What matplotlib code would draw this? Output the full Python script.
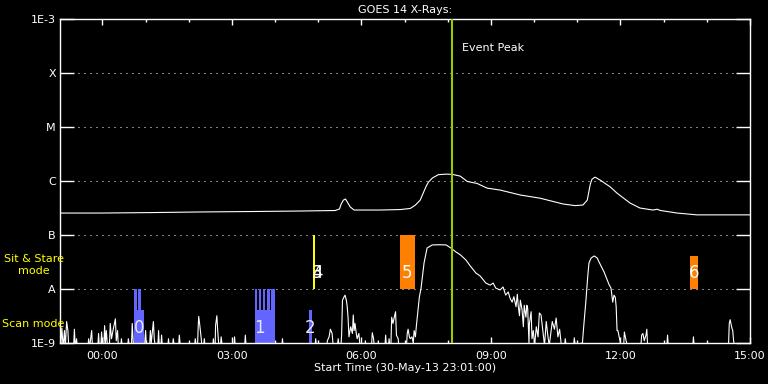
import numpy as np
import matplotlib
matplotlib.use('Agg')
import matplotlib.pyplot as plt

plt.rcParams['font.family'] = ['DejaVu Sans']

# time in hours from 30-May-13 00:00 (start 23:01 the day before)
t_start = -59 / 60.0
t_end = 15.0

# long channel (1-8 A), flux in units of 1e-9 W/m^2
long_t = [-0.97, -0.05, 1.11, 2.27, 3.43, 4.58, 5.39, 5.49, 5.53, 5.58, 5.63, 5.67, 5.74, 5.83,
          5.97, 6.44, 6.90, 7.13, 7.25, 7.36, 7.43, 7.50, 7.55, 7.64, 7.78, 7.96, 8.10, 8.29,
          8.45, 8.68, 8.91, 9.21, 9.68, 10.14, 10.67, 10.95, 11.13, 11.23, 11.30, 11.34, 11.41,
          11.53, 11.76, 11.92, 12.22, 12.45, 12.75, 12.85, 12.92, 13.31, 13.77, 15.0]
long_f = [255, 255, 260, 267, 272, 278, 284, 303, 375, 442, 464, 410, 330, 290,
          290, 290, 296, 310, 359, 442, 596, 804, 950, 1130, 1310, 1340, 1330, 1230,
          980, 900, 738, 680, 550, 480, 375, 350, 359, 442, 872, 1080, 1180,
          1040, 780, 596, 391, 316, 290, 300, 285, 255, 236, 236]

# short channel (0.5-4 A), flux in units of 1e-9 W/m^2 (0.8 = below the plot floor)
short_t = [-0.97, -0.94, -0.91, -0.88, -0.86, -0.83, -0.80, -0.78, -0.67, -0.65, -0.63, -0.60,
           -0.58, -0.34, -0.32, -0.30, -0.25, -0.23, -0.11, -0.09, -0.07, -0.04, -0.02, 0.00,
           0.03, 0.05, 0.07, 0.09, 0.12, 0.16, 0.18, 0.21, 0.25, 0.30, 0.32, 0.35, 0.37, 0.42,
           0.44, 0.46, 0.58, 0.60, 0.63, 0.67, 0.69, 0.72, 0.97, 1.00, 1.02, 1.09, 1.11, 1.13,
           1.18, 1.20, 1.23, 1.28, 1.30, 1.32, 1.35, 1.37, 1.39, 1.51, 1.53, 1.55, 1.62, 1.64,
           1.67, 1.76, 1.78, 1.81, 2.13, 2.15, 2.18, 2.20, 2.22, 2.23, 2.25, 2.28, 2.31, 2.34,
           2.36, 2.38, 2.55, 2.57, 2.59, 2.61, 2.62, 2.65, 2.67, 2.70, 2.73, 2.75, 2.78, 3.04,
           3.06, 3.08, 3.29, 3.31, 3.33, 4.15, 4.17, 4.19, 4.92, 4.94, 4.96, 5.19, 5.21, 5.25,
           5.28, 5.32, 5.35, 5.44, 5.46, 5.49, 5.52, 5.54, 5.56, 5.59, 5.62, 5.65, 5.67, 5.69,
           5.71, 5.75, 5.79, 5.81, 5.83, 5.85, 5.88, 5.90, 5.94, 5.97, 6.07, 6.09, 6.11, 6.23,
           6.25, 6.28, 6.30, 6.37, 6.39, 6.41, 6.54, 6.56, 6.58, 6.62, 6.64, 6.66, 6.68, 6.70,
           6.73, 6.76, 6.79, 6.81, 6.85, 6.87, 7.04, 7.06, 7.08, 7.11, 7.13, 7.17, 7.20, 7.22,
           7.25, 7.27, 7.34, 7.38, 7.45, 7.52, 7.64, 7.82, 7.96, 8.07, 8.19, 8.29, 8.42, 8.52,
           8.65, 8.75, 8.88, 8.98, 9.05, 9.11, 9.21, 9.28, 9.34, 9.40, 9.44, 9.49, 9.53, 9.58,
           9.61, 9.63, 9.66, 9.68, 9.72, 9.75, 9.77, 9.81, 9.83, 9.85, 9.88, 9.89, 9.93, 9.95,
           9.98, 10.01, 10.05, 10.09, 10.12, 10.16, 10.20, 10.24, 10.28, 10.32, 10.35, 10.42,
           10.47, 10.51, 10.55, 10.59, 10.63, 10.70, 10.72, 10.75, 10.91, 10.93, 10.96, 11.07,
           11.09, 11.11, 11.14, 11.20, 11.24, 11.27, 11.32, 11.39, 11.46, 11.50, 11.62, 11.74,
           11.78, 11.82, 11.85, 11.88, 11.90, 11.92, 11.94, 11.97, 12.01, 12.03, 12.07, 12.09,
           12.13, 12.18, 12.47, 12.49, 12.52, 12.55, 12.59, 12.61, 12.63, 13.07, 13.09, 13.11,
           13.67, 13.69, 13.71, 14.50, 14.52, 14.54, 14.58, 14.60, 14.62, 14.65, 15.0]
short_f = [0.8, 1.9, 0.8, 1.7, 0.8, 2.5, 1.7, 0.8, 0.8, 1.8, 0.8, 1.2,
           0.8, 0.8, 1.2, 0.8, 1.7, 0.8, 0.8, 1.5, 0.8, 0.8, 1.6, 0.8,
           0.8, 2.1, 1.0, 1.7, 0.8, 0.8, 2.3, 1.2, 1.8, 2.8, 1.1, 1.7, 0.8, 0.8,
           1.2, 0.8, 0.8, 1.2, 0.8, 0.8, 2.3, 0.8, 0.8, 1.7, 0.8, 0.8, 1.7, 1.0,
           2.5, 1.2, 0.8, 0.8, 1.7, 0.8, 0.8, 1.4, 0.8, 0.8, 1.2, 0.8, 0.8, 1.2,
           0.8, 0.8, 1.4, 0.8, 0.8, 1.2, 0.8, 0.8, 2.2, 3.1, 2.3, 1.4, 0.8, 0.8,
           1.2, 0.8, 0.8, 1.2, 0.8, 0.8, 2.1, 3.2, 1.7, 0.8, 0.8, 1.3, 0.8, 0.8,
           1.3, 0.8, 0.8, 1.4, 0.8, 0.8, 1.2, 0.8, 0.8, 1.2, 0.8, 0.8, 1.1, 1.3,
           1.8, 1.5, 0.8, 0.8, 1.2, 0.8, 0.8, 1.4, 6.2, 7.0, 7.7, 6.2, 4.7, 2.9,
           1.3, 2.0, 1.5, 3.3, 1.7, 2.3, 1.5, 1.2, 1.5, 0.8, 0.8, 1.1, 0.8, 0.8,
           1.55, 1.2, 0.8, 0.8, 1.1, 0.8, 0.8, 1.4, 0.8, 0.8, 1.2, 0.8, 0.8, 3.0,
           2.3, 3.0, 3.8, 1.4, 1.2, 0.8, 0.8, 1.5, 1.8, 1.3, 1.2, 1.3, 1.0, 1.7,
           1.3, 2.0, 7.0, 10.4, 30.4, 57.5, 65.5, 66, 65.5, 57.5, 48.4, 43, 34.4, 26.7,
           19.8, 17.4, 12.9, 11.8, 12.9, 10.4, 9.6, 10.9, 7.7, 8.8, 6.8, 5.7, 7.2, 4.7,
           8.0, 5.0, 3.2, 6.2, 4.1, 2.0, 5.0, 3.0, 5.0, 4.4, 1.0, 2.3, 3.8, 1.2,
           1.7, 0.9, 2.0, 1.3, 3.6, 3.3, 1.7, 0.9, 2.5, 1.3, 0.9, 2.5,
           1.8, 2.9, 1.3, 1.8, 0.9, 0.8, 1.2, 0.8, 0.8, 1.25, 0.8, 0.8,
           1.0, 0.8, 1.7, 6.2, 16.7, 30.4, 37.5, 40.9, 37.5, 32, 20.6, 11.8,
           10.4, 5.7, 7.7, 7.0, 4.7, 1.7, 1.7, 1.3, 0.9, 0.8, 0.8, 1.6,
           1.1, 0.8, 0.8, 1.4, 1.5, 1.1, 1.4, 1.8, 0.8, 0.8, 1.4, 0.8,
           0.8, 1.3, 0.8, 0.8, 2.3, 2.7, 1.9, 1.7, 1.1, 0.8, 0.8]

# scan mode observations: start, end (hours), top flux
scan_start = [0.74, 0.74, 0.83, 3.54, 3.54, 3.63, 3.73, 3.82, 3.91, 4.79]
scan_end = [0.97, 0.81, 0.90, 4.00, 3.59, 3.68, 3.77, 3.87, 4.00, 4.86]
scan_top = [4e-9, 1e-8, 1e-8, 4e-9, 1e-8, 1e-8, 1e-8, 1e-8, 1e-8, 4e-9]

# sit & stare observations
ss_start = [4.88, 6.90, 13.61]
ss_end = [4.92, 7.25, 13.80]
ss_top = [1e-7, 1e-7, 4e-8]
ss_color = ['#ffff00', '#ff8000', '#ff8000']

# event labels
scan_lab = ['0', '1', '2']
scan_lab_t = [0.86, 3.63, 4.82]
ss_lab = ['3', '4', '5', '6']
ss_lab_t = [4.98, 4.98, 7.06, 13.70]

peak_t = 8.09

ytick_vals = [1e-9, 1e-8, 1e-7, 1e-6, 1e-5, 1e-4, 1e-3]
ytick_labs = ['1E-9', 'A', 'B', 'C', 'M', 'X', '1E-3']
xtick_vals = [0, 3, 6, 9, 12, 15]
xtick_labs = ['00:00', '03:00', '06:00', '09:00', '12:00', '15:00']

fig = plt.figure(figsize=(7.68, 3.84), dpi=100, facecolor='black')
ax = fig.add_axes([60 / 768, 1 - 343 / 384, 690 / 768, 324 / 384], facecolor='black')
ax.set_yscale('log')
ax.set_xlim(t_start, t_end)
ax.set_ylim(1e-9, 1e-3)

for v in ytick_vals[1:-1]:
    ax.axhline(v, color='white', lw=0.72, ls=(0, (1, 5)), zorder=1)

for s, e, top in zip(scan_start, scan_end, scan_top):
    ax.bar(s, top - 1e-9, width=e - s, bottom=1e-9, align='edge', color='#6464ff', lw=0, zorder=2)
for s, e, top, c in zip(ss_start, ss_end, ss_top, ss_color):
    ax.bar(s, top - 1e-8, width=e - s, bottom=1e-8, align='edge', color=c, lw=0, zorder=2)

ax.plot(long_t, np.array(long_f) * 1e-9, color='white', lw=0.8, zorder=3)
ax.plot(short_t, np.array(short_f) * 1e-9, color='white', lw=0.8, zorder=3)

ax.axvline(peak_t, color='#99cc00', lw=1.5, zorder=4)
ax.text(peak_t + 0.25, 2.9e-4, 'Event Peak', color='white', fontsize=8, va='center', ha='left')

for lab, t in zip(scan_lab, scan_lab_t):
    ax.text(t, 1.9e-9, lab, color='#e8e8ff', fontsize=12, ha='center', va='center', zorder=5)
for lab, t in zip(ss_lab, ss_lab_t):
    ax.text(t, 2.0e-8, lab, color='white', fontsize=12, ha='center', va='center', zorder=5)

ax.set_yticks(ytick_vals)
ax.set_yticklabels(ytick_labs)
ax.yaxis.set_minor_locator(matplotlib.ticker.NullLocator())
ax.set_xticks(xtick_vals)
ax.set_xticklabels(xtick_labs)
ax.set_xticks(np.arange(-0.0, 15.0, 1.0), minor=True)
ax.tick_params(axis='y', which='major', direction='in', length=10, width=1, color='white',
               labelcolor='white', labelsize=8, left=True, right=True, pad=3)
ax.tick_params(axis='x', which='major', direction='in', length=4.3, width=1, color='white',
               labelcolor='white', labelsize=8, top=True, bottom=True, pad=6)
ax.tick_params(axis='x', which='minor', direction='in', length=2.2, width=1, color='white',
               top=True, bottom=True)
for sp in ax.spines.values():
    sp.set_color('white')
    sp.set_linewidth(1)

fig.text(405 / 768, 1 - 10 / 384, 'GOES 14 X-Rays:', color='white', fontsize=8, ha='center', va='center')
fig.text(405 / 768, 1 - 368 / 384, 'Start Time (30-May-13 23:01:00)', color='white', fontsize=8,
         ha='center', va='center')
fig.text(34 / 768, 1 - 259 / 384, 'Sit & Stare', color='#ffff00', fontsize=8, ha='center', va='center')
fig.text(34 / 768, 1 - 271 / 384, 'mode', color='#ffff00', fontsize=8, ha='center', va='center')
fig.text(2 / 768, 1 - 324 / 384, 'Scan mode', color='#ffff00', fontsize=8, ha='left', va='center')

fig.savefig('out.png', dpi=100, facecolor='black')
